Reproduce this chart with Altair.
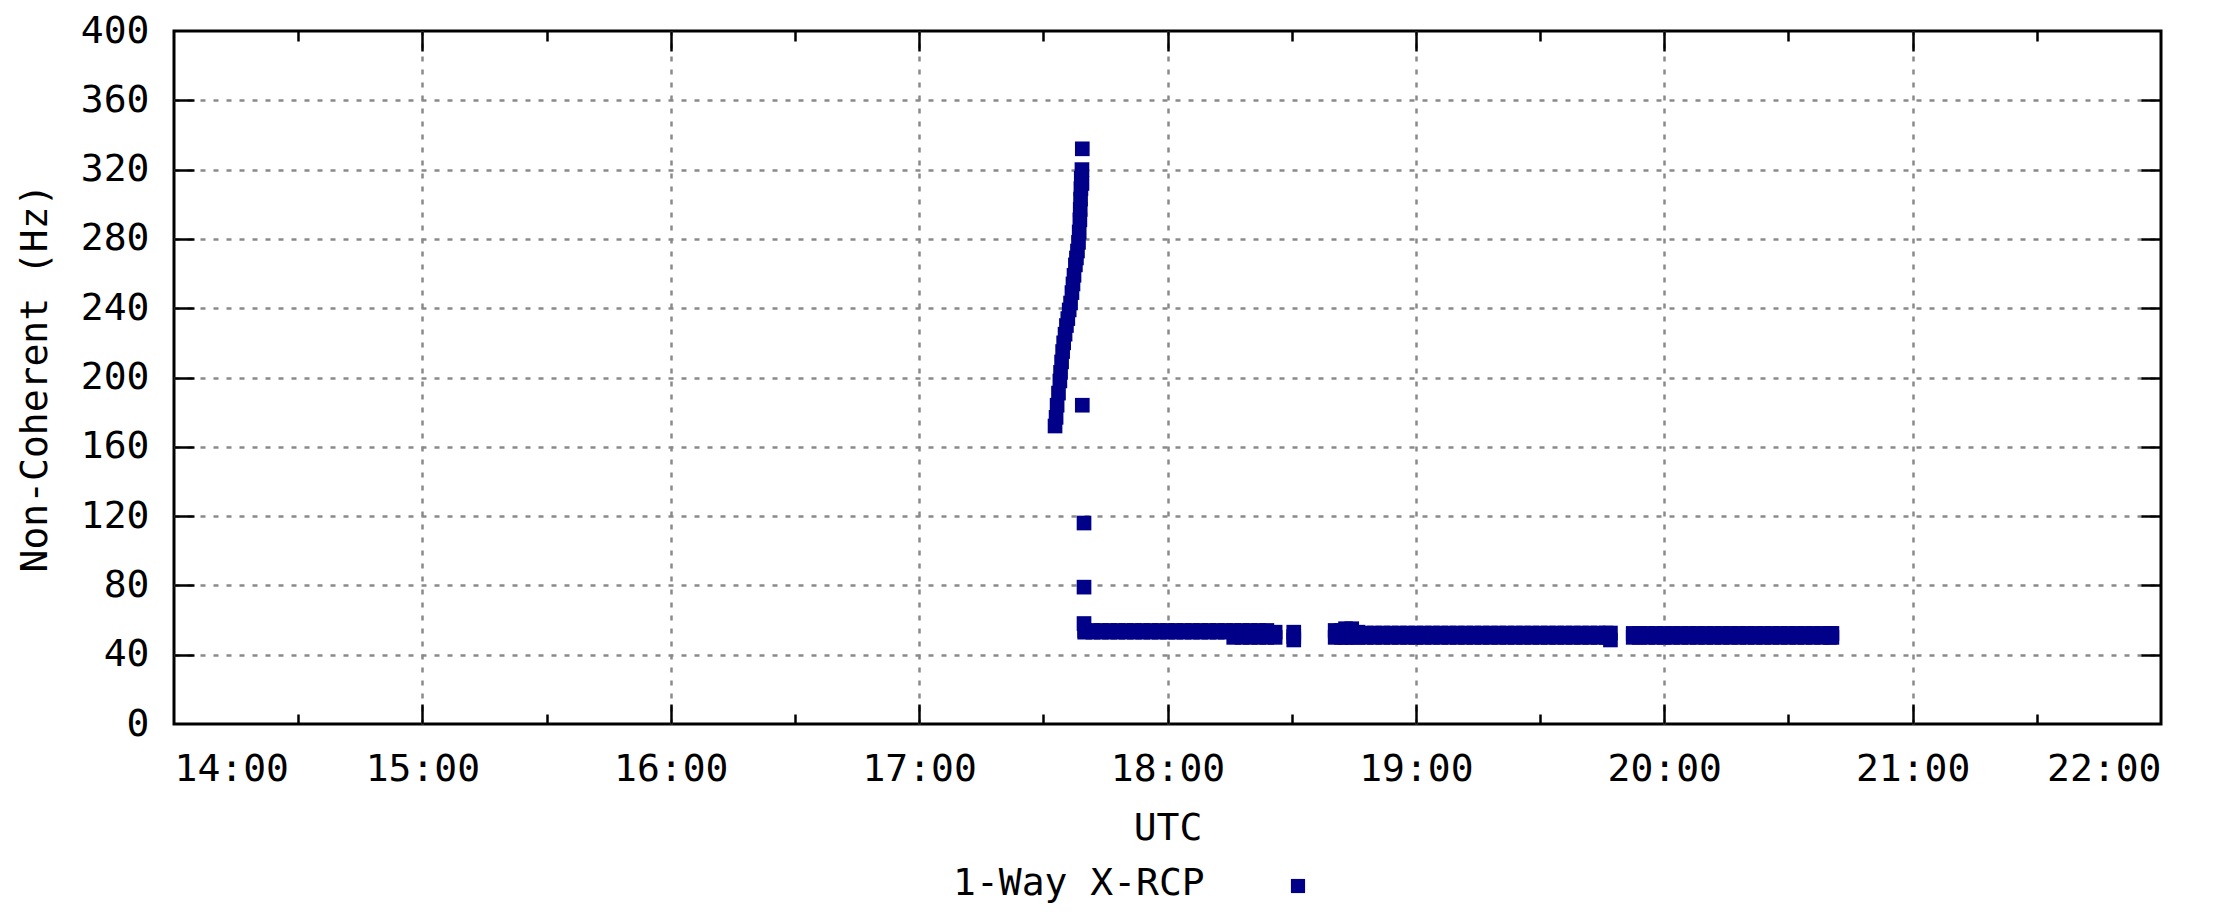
import altair as alt
import pandas as pd

FONT = "DejaVu Sans Mono"
FS = 38
NAVY = "#000088"
GRID = "#8a8a8a"
SERIES = "1-Way X-RCP"

# ---- data (UTC time, Hz) ----
ramp_t = ["17:32:50", "17:33:05", "17:33:20", "17:33:40", "17:34:00", "17:34:10",
          "17:34:25", "17:34:40", "17:34:55", "17:35:15", "17:35:35", "17:35:55",
          "17:36:15", "17:36:35", "17:36:55", "17:37:10", "17:37:25", "17:37:45",
          "17:38:00", "17:38:15", "17:38:30", "17:38:40", "17:38:50", "17:38:55",
          "17:39:00", "17:39:05", "17:39:10", "17:39:20", "17:39:20"]
ramp_v = [172, 177, 184, 191, 198, 203, 209, 215, 220, 225, 230, 234, 239, 243,
          249, 254, 259, 265, 269, 273, 278, 284, 291, 297, 303, 309, 315, 320, 312]

outlier_t = ["17:39:25", "17:39:25", "17:39:50", "17:39:50", "17:39:50"]
outlier_v = [332, 184, 116, 79, 58]

# band segments: upper and lower edge of the point cloud at each time
segA_t = ["17:40", "17:42", "17:44", "17:46", "17:48", "17:50", "17:52", "17:54",
          "17:56", "17:58", "18:00", "18:02", "18:04", "18:06", "18:08", "18:10",
          "18:12", "18:14", "18:16", "18:18", "18:20", "18:22", "18:24", "18:26"]
segA_hi = [54, 54, 54, 54, 54, 54, 54, 54, 54, 54, 54, 54, 54, 54, 54, 54,
           54, 54, 54, 54, 54, 54, 54, 53]
segA_lo = [53, 53, 53, 53, 53, 53, 53, 53, 53, 53, 53, 53, 53, 53, 53, 53,
           53, 53, 50, 50, 50, 50, 50, 50]

segB_t = ["18:30:30", "18:30:30", "18:30:30"]
segB_v = [53, 50.5, 48.5]

segC_t = ["18:40:30", "18:42", "18:43", "18:44:30", "18:46", "18:48", "18:50", "18:52",
          "18:54", "18:56", "18:58", "19:00", "19:02", "19:04", "19:06", "19:08",
          "19:10", "19:12", "19:14", "19:16", "19:18", "19:20", "19:22", "19:24",
          "19:26", "19:28", "19:30", "19:32", "19:34", "19:36", "19:38", "19:40",
          "19:42", "19:44", "19:46", "19:47"]
segC_hi = [54, 54, 55, 55, 53, 52.5, 52.5, 52.5, 52.5, 52.5, 52.5, 52.5, 52.5, 52.5, 52.5, 52.5,
           52.5, 52.5, 52.5, 52.5, 52.5, 52.5, 52.5, 52.5, 52.5, 52.5, 52.5, 52.5, 52.5, 52.5,
           52.5, 52.5, 52.5, 52.5, 52.5, 52.5]
segC_lo = [50, 50, 50, 50, 50, 50, 50, 50, 50, 50, 50, 50, 50, 50, 50, 50,
           50, 50, 50, 50, 50, 50, 50, 50, 50, 50, 50, 50, 50, 50, 50, 50,
           50, 50, 50, 48.5]

segD_t = ["19:52:30", "19:54", "19:56", "19:58", "20:00", "20:02", "20:04", "20:06",
          "20:08", "20:10", "20:12", "20:14", "20:16", "20:18", "20:20", "20:22",
          "20:24", "20:26", "20:28", "20:30", "20:32", "20:34", "20:36", "20:38",
          "20:40", "20:40:30"]
segD_hi = [52.3, 52.3, 52.3, 52.3, 52.3, 52.3, 52.3, 52.3, 52.3, 52.3, 52.3, 52.3, 52.3,
           52.3, 52.3, 52.3, 52.3, 52.3, 52.3, 52.3, 52.3, 52.3, 52.3, 52.3, 52.3, 52.3]
segD_lo = [50, 50, 50, 50, 50, 50, 50, 50, 50, 50, 50, 50, 50,
           50, 50, 50, 50, 50, 50, 50, 50, 50, 50, 50, 50, 50]

hour_ticks = [14, 15, 16, 17, 18, 19, 20, 21, 22]
inner_hours = [15, 16, 17, 18, 19, 20, 21]
half_ticks = [14.5, 15.5, 16.5, 17.5, 18.5, 19.5, 20.5, 21.5]
y_ticks = [0, 40, 80, 120, 160, 200, 240, 280, 320, 360, 400]
inner_y = [40, 80, 120, 160, 200, 240, 280, 320, 360]


def to_hours(s):
    parts = [int(p) for p in s.split(":")]
    while len(parts) < 3:
        parts.append(0)
    return parts[0] + parts[1] / 60 + parts[2] / 3600


times = (ramp_t + outlier_t + segA_t + segA_t + segB_t + segC_t + segC_t
         + segD_t + segD_t)
vals = (ramp_v + outlier_v + segA_hi + segA_lo + segB_v + segC_hi + segC_lo
        + segD_hi + segD_lo)
df = pd.DataFrame({"hours": [to_hours(t) for t in times], "hz": vals,
                   "series": SERIES, "series_sym": SERIES})

xscale = alt.Scale(domain=[14, 22], nice=False, zero=False)
yscale = alt.Scale(domain=[0, 400], nice=False, zero=True)

base = alt.Chart(df)

points = base.mark_point(filled=True, size=215, opacity=1, strokeWidth=0).encode(
    x=alt.X("hours:Q", scale=xscale,
            axis=alt.Axis(orient="bottom", values=hour_ticks,
                          labelExpr="format(datum.value, '02d') + ':00'",
                          title="UTC", grid=False, ticks=False, tickSize=0, domain=False,
                          labelPadding=26, titlePadding=21)),
    y=alt.Y("hz:Q", scale=yscale,
            axis=alt.Axis(orient="left", values=y_ticks, title="Non-Coherent (Hz)",
                          grid=False, ticks=False, tickSize=0, domain=False,
                          labelPadding=25, titlePadding=26)),
    # label part of the key
    color=alt.Color("series:N", scale=alt.Scale(range=[NAVY]),
                    legend=alt.Legend(title=None, orient="none", legendX=737, legendY=834,
                                      padding=0, symbolType="square", symbolSize=215,
                                      symbolOpacity=0, labelOffset=4, labelLimit=600,
                                      labelFont=FONT, labelFontSize=FS, labelColor="black")),
    # symbol part of the key (placed to the right of the label, as in the original)
    shape=alt.Shape("series_sym:N", scale=alt.Scale(range=["square"]),
                    legend=alt.Legend(title=None, orient="none", legendX=1105, legendY=836,
                                      padding=0, symbolSize=200, symbolFillColor=NAVY,
                                      symbolStrokeWidth=0, labelOpacity=0, labelLimit=10,
                                      labelFontSize=FS)),
)

tick_common = dict(labels=False, domain=False, title=None, tickColor="black", tickWidth=2.5)
grid_common = dict(gridColor=GRID, gridDash=[5, 8], gridWidth=2.5)

x_major_bottom = base.mark_point(opacity=0).encode(
    x=alt.X("hours:Q", scale=xscale,
            axis=alt.Axis(orient="bottom", offset=-20, tickSize=20, values=inner_hours,
                          grid=True, **grid_common, **tick_common)))
x_minor_bottom = base.mark_point(opacity=0).encode(
    x=alt.X("hours:Q", scale=xscale,
            axis=alt.Axis(orient="bottom", offset=-10, tickSize=10, values=half_ticks,
                          grid=False, **tick_common)))
x_major_top = base.mark_point(opacity=0).encode(
    x=alt.X("hours:Q", scale=xscale,
            axis=alt.Axis(orient="top", offset=-20, tickSize=20, values=inner_hours,
                          grid=False, **tick_common)))
x_minor_top = base.mark_point(opacity=0).encode(
    x=alt.X("hours:Q", scale=xscale,
            axis=alt.Axis(orient="top", offset=-10, tickSize=10, values=half_ticks,
                          grid=False, **tick_common)))
y_left = base.mark_point(opacity=0).encode(
    y=alt.Y("hz:Q", scale=yscale,
            axis=alt.Axis(orient="left", offset=-20, tickSize=20, values=inner_y,
                          grid=True, **grid_common, **tick_common)))
y_right = base.mark_point(opacity=0).encode(
    y=alt.Y("hz:Q", scale=yscale,
            axis=alt.Axis(orient="right", offset=-20, tickSize=20, values=inner_y,
                          grid=False, **tick_common)))

chart = alt.layer(
    x_major_bottom, x_minor_bottom, x_major_top, x_minor_top, y_left, y_right, points
).resolve_axis(x="independent", y="independent").properties(
    width=1987, height=693,
    background="white",
    autosize=alt.AutoSizeParams(type="none"),
    padding={"left": 166, "top": 23, "right": 61, "bottom": 182},
).configure_view(
    stroke="black", strokeWidth=3
).configure_axis(
    labelFont=FONT, labelFontSize=FS, labelColor="black",
    titleFont=FONT, titleFontSize=FS, titleFontWeight="normal", titleColor="black",
)

chart.save("out.html", embed_options={"renderer": "svg", "actions": False})
